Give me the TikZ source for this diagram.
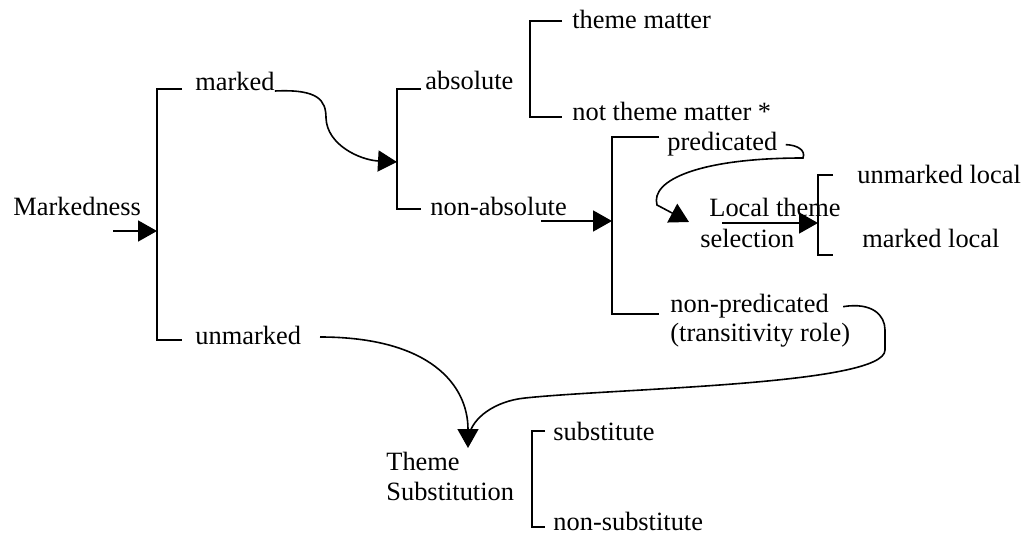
\documentclass[tikz,border=0pt]{standalone}
\usepackage{fontspec}
\setmainfont{Liberation Serif}
\usetikzlibrary{arrows.meta}

\begin{document}
\begin{tikzpicture}[x=0.5pt,y=0.5pt,yscale=-1,xscale=1,
  lbl/.style={anchor=base west,inner sep=0pt,font=\fontsize{13.2}{15}\selectfont},
  brk/.style={line width=1pt},
  tri/.style={-{Triangle[length=9.5pt,width=10.5pt]},line width=0.9pt},
  crv/.style={line width=0.8pt}]
\useasboundingbox (0,0) rectangle (1033,534);

%Text nodes
\node[lbl] (mkd) at (13,216) {Markedness};
\node[lbl] (mrk) at (195,91) {marked};
\node[lbl] (unm) at (195,344) {unmarked};
\node[lbl] (abs) at (425,90) {absolute};
\node[lbl] (nabs) at (430,216) {non-absolute};
\node[lbl] (tm) at (572,29) {theme matter};
\node[lbl] (ntm) at (572,121) {not theme matter *};
\node[lbl] (pred) at (667,151) {predicated};
\node[lbl] (npred) at (670,313) {non-predicated};
\node[lbl] (trole) at (670,342) {(transitivity role)};
\node[lbl] (loc) at (709,217) {Local theme};
\node[lbl] (sel) at (700,248) {selection};
\node[lbl] (uml) at (857,184) {unmarked local};
\node[lbl] (mkl) at (862,248) {marked local};
\node[lbl] (thm) at (386,470) {Theme};
\node[lbl] (sub) at (386,500) {Substitution};
\node[lbl] (sbs) at (553,440) {substitute};
\node[lbl] (nsbs) at (553,530) {non-substitute};

%Shape: Brackets
\draw[brk] (182,89) -- (157,89) -- (157,340) -- (182,340);
\draw[brk] (421,89) -- (397,89) -- (397,209) -- (421,209);
\draw[brk] (562,21) -- (530,21) -- (530,117) -- (562,117);
\draw[brk] (659,137) -- (612,137) -- (612,314) -- (659,314);
\draw[brk] (833,175) -- (818,175) -- (818,255) -- (833,255);
\draw[brk] (545,431) -- (532,431) -- (532,527) -- (545,527);

%Points on the brackets and free ends
\coordinate (brA) at (157,231);
\coordinate (brB) at (397,162);
\coordinate (brC) at (612,221);
\coordinate (brD) at (818,223);
\coordinate (mkdin) at (113,231);
\coordinate (nabsin) at (541,221);
\coordinate (locin) at (722,223);
\coordinate (loctip) at (689,222);
\coordinate (unmout) at (320,337);
\coordinate (subtip) at (468,448);

%Straight Lines
\draw[tri] (mkdin) -- (brA);
\draw[tri] (nabsin) -- (brC);
\draw[tri] (locin) -- (brD);

%Curve Lines
\draw[crv,-{Triangle[length=9.5pt,width=10.5pt]}] (mrk.base east) .. controls (318,89) and (326,100) .. (326,118) .. controls (327,145) and (360,160) .. (brB);
\draw[crv,-{Triangle[length=9.5pt,width=10.5pt]}] ([xshift=4pt]pred.east) .. controls (797,145) and (806,150) .. (803,158) .. controls (700,158) and (650,180) .. (657,205) -- (loctip);
\draw[crv,-{Triangle[length=9.5pt,width=10.5pt]}] (unmout) .. controls (430,337) and (468,385) .. (subtip);
\draw[crv] ([xshift=7pt]npred.east) .. controls (872,302) and (885,315) .. (885,330) -- (885,350) .. controls (885,385) and (620,388) .. (525,398) .. controls (495,401) and (472,418) .. (469,436);

\end{tikzpicture}
\end{document}
